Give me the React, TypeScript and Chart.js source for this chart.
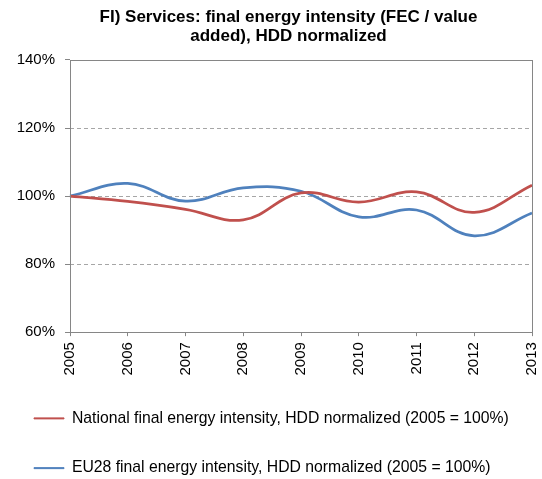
import React, { useEffect, useRef } from "react";
import { Chart, registerables } from "chart.js";

Chart.register(...registerables);

const years = ["2005", "2006", "2007", "2008", "2009", "2010", "2011", "2012", "2013"];
const nationalValues = [100, 98.4, 96.1, 93.0, 100.9, 98.2, 101.2, 95.2, 103.2];
const eu28Values = [100, 103.7, 98.5, 102.4, 101.4, 93.9, 95.9, 88.3, 95.0];
const titleLines = ["FI) Services: final energy intensity (FEC / value", "added), HDD normalized"];
const nationalLabel = "National final energy intensity, HDD normalized (2005 = 100%)";
const eu28Label = "EU28 final energy intensity, HDD normalized (2005 = 100%)";

const FONT = "'Liberation Sans', Arial, sans-serif";

const borderPlugin = {
  id: "plotBorder",
  afterLayout(chart: any) {
    if (chart.titleBlock) chart.titleBlock.left += 36;
  },
  afterDatasetsDraw(chart: any) {
    const { ctx, chartArea } = chart;
    ctx.save();
    ctx.strokeStyle = "#868686";
    ctx.lineWidth = 1;
    ctx.strokeRect(Math.round(chartArea.left) + 0.5, Math.round(chartArea.top) + 0.5,
      Math.round(chartArea.right - chartArea.left), Math.round(chartArea.bottom - chartArea.top));
    ctx.restore();
  },
};

export default function App() {
  const ref = useRef<HTMLCanvasElement>(null);
  useEffect(() => {
    if (!ref.current) return;
    const chart = new Chart(ref.current, {
      type: "line",
      data: {
        labels: years,
        datasets: [
          {
            label: nationalLabel,
            data: nationalValues,
            borderColor: "#C0504D",
            backgroundColor: "#C0504D",
            borderWidth: 2.75,
            pointRadius: 0,
            tension: 0.4,
          },
          {
            label: eu28Label,
            data: eu28Values,
            borderColor: "#4F81BD",
            backgroundColor: "#4F81BD",
            borderWidth: 2.75,
            pointRadius: 0,
            tension: 0.4,
          },
        ],
      },
      options: {
        animation: false,
        responsive: false,
        layout: { padding: { left: 0, right: 1, top: 0, bottom: -7 } },
        plugins: {
          title: {
            display: true,
            text: titleLines,
            color: "#000",
            font: { family: FONT, size: 17, weight: "bold", lineHeight: 1.14 },
            padding: { top: 7.3, bottom: 13.9 },
          },
          legend: {
            position: "bottom",
            align: "start",
            labels: {
              color: "#000",
              font: { family: FONT, size: 15.75 },
              boxWidth: 30,
              boxHeight: 1,
              padding: 34,
              generateLabels: (chart: any) =>
                Chart.defaults.plugins.legend.labels
                  .generateLabels(chart)
                  .map((l: any) => ({ ...l, lineWidth: 1 })),
            },
          },
          tooltip: { enabled: false },
        },
        scales: {
          x: {
            offset: false,
            afterFit: (scale: any) => {
              scale.height = scale.height - 5;
              scale.paddingRight = 10;
            },
            grid: {
              display: true,
              drawOnChartArea: false,
              drawTicks: true,
              tickLength: 4,
              tickColor: "#868686",
            },
            border: { display: false },
            ticks: {
              color: "#000",
              font: { family: FONT, size: 15 },
              minRotation: 90,
              maxRotation: 90,
              autoSkip: false,
              padding: 6,
            },
          },
          y: {
            min: 60,
            max: 140,
            afterFit: (scale: any) => {
              scale.width = 70;
            },
            grid: {
              color: (c: any) => (c.tick && (c.tick.value === 60 || c.tick.value === 140) ? "rgba(0,0,0,0)" : "#A6A6A6"),
              tickColor: "#868686",
              tickLength: 5,
            },
            border: { display: false, dash: [4, 3] },
            ticks: {
              stepSize: 20,
              color: "#000",
              padding: 10,
              font: { family: FONT, size: 15 },
              callback: (v: any) => v + "%",
            },
          },
        },
      },
      plugins: [borderPlugin],
    });
    return () => chart.destroy();
  }, []);
  return (
    <div style={{ position: "absolute", left: 0, top: 0, width: 542, height: 479, background: "#fff" }}>
      <canvas ref={ref} width={542} height={479} style={{ width: 542, height: 479 }} />
    </div>
  );
}
